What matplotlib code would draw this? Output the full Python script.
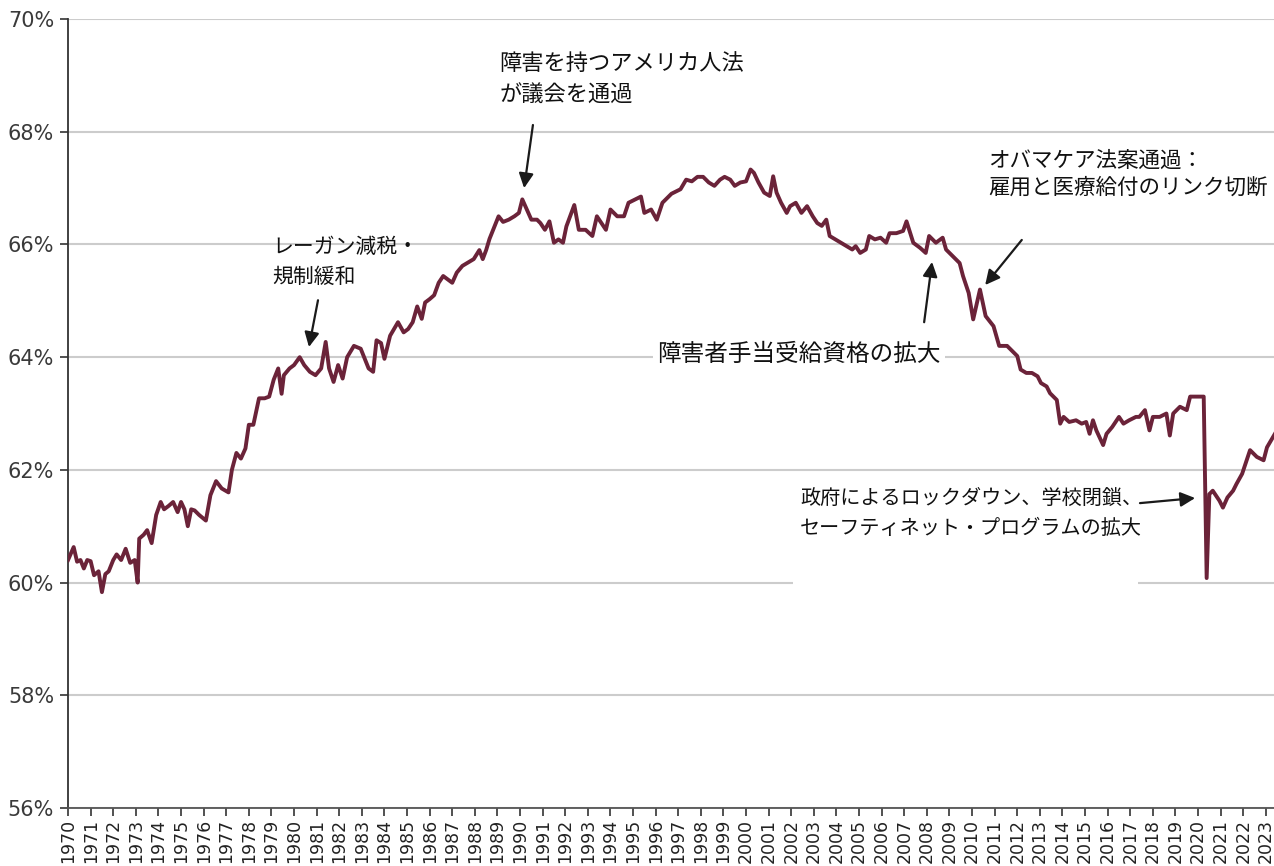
import numpy as np
import matplotlib
matplotlib.use('Agg')
import matplotlib.pyplot as plt
from matplotlib.patches import Rectangle

plt.rcParams['font.family'] = ['Noto Sans CJK JP', 'DejaVu Sans']

# 労働参加率
years = [
    1970.0, 1970.25, 1970.4, 1970.55, 1970.7, 1970.85, 1971.0, 1971.15, 1971.35, 1971.5,
    1971.65, 1971.8, 1972.0, 1972.15, 1972.35, 1972.55, 1972.75, 1972.95, 1973.08, 1973.15,
    1973.35, 1973.5, 1973.7, 1973.9, 1974.1, 1974.25, 1974.45, 1974.65, 1974.85, 1975.0,
    1975.15, 1975.3, 1975.45, 1975.6, 1975.8, 1976.1, 1976.3, 1976.55, 1976.8, 1977.1,
    1977.25, 1977.45, 1977.65, 1977.85, 1978.0, 1978.2, 1978.45, 1978.7, 1978.9, 1979.1,
    1979.3, 1979.45, 1979.55, 1979.8, 1980.0, 1980.25, 1980.45, 1980.7, 1980.95, 1981.2,
    1981.4, 1981.55, 1981.75, 1981.95, 1982.15, 1982.35, 1982.65, 1982.95, 1983.3, 1983.5,
    1983.65, 1983.85, 1984.0, 1984.25, 1984.6, 1984.85, 1985.05, 1985.25, 1985.45, 1985.65,
    1985.8, 1986.0, 1986.2, 1986.4, 1986.6, 1986.8, 1987.0, 1987.2, 1987.45, 1987.7,
    1987.95, 1988.2, 1988.35, 1988.5, 1988.65, 1988.85, 1989.05, 1989.25, 1989.5, 1989.75,
    1989.95, 1990.1, 1990.3, 1990.5, 1990.75, 1990.9, 1991.1, 1991.3, 1991.5, 1991.7,
    1991.9, 1992.05, 1992.4, 1992.6, 1992.9, 1993.2, 1993.4, 1993.8, 1994.0, 1994.3,
    1994.6, 1994.8, 1995.1, 1995.35, 1995.5, 1995.8, 1996.05, 1996.3, 1996.7, 1997.1,
    1997.35, 1997.6, 1997.85, 1998.1, 1998.35, 1998.6, 1998.85, 1999.05, 1999.3, 1999.5,
    1999.75, 2000.0, 2000.2, 2000.35, 2000.55, 2000.8, 2001.05, 2001.2, 2001.35, 2001.55,
    2001.8, 2001.95, 2002.2, 2002.45, 2002.7, 2002.95, 2003.15, 2003.35, 2003.55, 2003.7,
    2003.95, 2004.2, 2004.45, 2004.7, 2004.85, 2005.05, 2005.3, 2005.45, 2005.7, 2005.95,
    2006.2, 2006.35, 2006.65, 2006.95, 2007.1, 2007.4, 2007.7, 2007.95, 2008.1, 2008.4,
    2008.7, 2008.85, 2009.15, 2009.45, 2009.6, 2009.85, 2010.05, 2010.35, 2010.6, 2010.95,
    2011.2, 2011.55, 2011.7, 2012.0, 2012.15, 2012.4, 2012.65, 2012.9, 2013.05, 2013.3,
    2013.45, 2013.75, 2013.9, 2014.05, 2014.3, 2014.6, 2014.85, 2015.05, 2015.2, 2015.35,
    2015.5, 2015.8, 2015.95, 2016.2, 2016.5, 2016.7, 2016.95, 2017.25, 2017.4, 2017.65,
    2017.85, 2018.0, 2018.3, 2018.6, 2018.75, 2018.9, 2019.2, 2019.5, 2019.65, 2020.25,
    2020.38, 2020.5, 2020.65, 2020.95, 2021.1, 2021.3, 2021.55, 2021.7, 2021.95, 2022.15,
    2022.3, 2022.6, 2022.9, 2023.05, 2023.4,
]
rate = [
    60.4, 60.63, 60.37, 60.4, 60.25, 60.4, 60.38, 60.13, 60.2, 59.83,
    60.15, 60.2, 60.4, 60.5, 60.4, 60.6, 60.35, 60.4, 60.0, 60.78,
    60.85, 60.93, 60.7, 61.2, 61.43, 61.3, 61.36, 61.43, 61.25, 61.43,
    61.3, 61.0, 61.3, 61.28, 61.2, 61.1, 61.55, 61.8, 61.67, 61.6,
    62.0, 62.3, 62.2, 62.38, 62.8, 62.8, 63.27, 63.27, 63.3, 63.6,
    63.8, 63.35, 63.68, 63.8, 63.86, 64.0, 63.86, 63.74, 63.68, 63.8,
    64.27, 63.8, 63.56, 63.86, 63.62, 64.0, 64.2, 64.15, 63.8, 63.74,
    64.3, 64.25, 63.97, 64.38, 64.62, 64.44, 64.5, 64.62, 64.9, 64.68,
    64.97, 65.03, 65.1, 65.32, 65.44, 65.38, 65.32, 65.5, 65.62, 65.68,
    65.74, 65.9, 65.74, 65.9, 66.1, 66.3, 66.5, 66.4, 66.44, 66.5,
    66.56, 66.8, 66.62, 66.44, 66.44, 66.38, 66.26, 66.41, 66.03, 66.09,
    66.03, 66.32, 66.7, 66.26, 66.26, 66.15, 66.5, 66.26, 66.62, 66.5,
    66.5, 66.74, 66.8, 66.85, 66.56, 66.62, 66.44, 66.74, 66.9, 66.98,
    67.15, 67.12, 67.2, 67.2, 67.1, 67.04, 67.15, 67.2, 67.15, 67.04,
    67.1, 67.12, 67.33, 67.27, 67.1, 66.92, 66.86, 67.21, 66.92, 66.74,
    66.56, 66.68, 66.74, 66.56, 66.68, 66.5, 66.38, 66.33, 66.44, 66.15,
    66.09, 66.03, 65.97, 65.91, 65.97, 65.85, 65.91, 66.15, 66.09, 66.12,
    66.03, 66.2, 66.2, 66.24, 66.41, 66.03, 65.94, 65.85, 66.15, 66.03,
    66.12, 65.91, 65.79, 65.67, 65.44, 65.14, 64.67, 65.2, 64.73, 64.55,
    64.2, 64.2, 64.14, 64.02, 63.78, 63.72, 63.72, 63.66, 63.54, 63.48,
    63.36, 63.24, 62.82, 62.94, 62.85, 62.88, 62.82, 62.85, 62.64, 62.88,
    62.7, 62.44, 62.64, 62.76, 62.94, 62.82, 62.88, 62.94, 62.94, 63.06,
    62.7, 62.94, 62.94, 63.0, 62.61, 63.0, 63.12, 63.06, 63.3, 63.3,
    60.08, 61.57, 61.63, 61.45, 61.33, 61.51, 61.63, 61.75, 61.93, 62.17,
    62.35, 62.23, 62.17, 62.4, 62.64,
]

tick_years = list(range(1970, 2024))
y_ticks = [56, 58, 60, 62, 64, 66, 68, 70]

fig = plt.figure(figsize=(12.74, 8.66), dpi=100)
ax = fig.add_axes([0.0534, 0.067, 0.9466, 0.911])

ax.plot(years, rate, color='#6b2339', lw=2.8, zorder=3, solid_joinstyle='round')

ax.set_xlim(1970, 2023.36)
ax.set_ylim(56, 70)
ax.set_yticks(y_ticks)
ax.set_yticklabels([f'{v}%' for v in y_ticks], fontsize=15, color='#3a3a3a',
                   family='DejaVu Sans')
ax.set_xticks(tick_years)
ax.set_xticklabels([str(y) for y in tick_years], rotation=90, fontsize=12.5,
                   color='#222222', family='DejaVu Sans')
ax.tick_params(axis='y', direction='out', length=6, width=1.2, color='#333333', pad=4)
ax.tick_params(axis='x', direction='out', length=6, width=1.2, color='#333333', pad=2)

ax.grid(axis='y', color='#cccccc', lw=1.5)
ax.set_axisbelow(True)
for s in ['top', 'right']:
    ax.spines[s].set_visible(False)
ax.spines['left'].set_color('#333333')
ax.spines['left'].set_linewidth(1.3)
ax.spines['bottom'].set_color('#555555')
ax.spines['bottom'].set_linewidth(1.3)

# 60%のグリッド線の途切れ
ax.add_patch(Rectangle((2002.08, 59.85), 15.25, 0.3, facecolor='white',
                       edgecolor='none', zorder=1))

arrow = dict(arrowstyle='-|>', color='#1a1a1a', lw=1.6, mutation_scale=22,
             shrinkA=0, shrinkB=0)

ax.text(1979.03, 66.15, 'レーガン減税・\n規制緩和', fontsize=15, ha='left', va='top',
        linespacing=1.45, color='#111111')
ax.annotate('', xy=(1980.66, 64.18), xytext=(1981.06, 65.01), arrowprops=arrow)

ax.text(1989.1, 69.41, '障害を持つアメリカ人法\nが議会を通過', fontsize=16, ha='left', va='top',
        linespacing=1.45, color='#111111')
ax.annotate('', xy=(1990.18, 67.0), xytext=(1990.57, 68.12), arrowprops=arrow)

ax.text(2010.7, 67.68, 'オバマケア法案通過：\n雇用と医療給付のリンク切断', fontsize=15.5,
        ha='left', va='top', linespacing=1.3, color='#111111')
ax.annotate('', xy=(2010.58, 65.28), xytext=(2012.2, 66.08), arrowprops=arrow)

ax.text(1996.06, 64.04, '障害者手当受給資格の拡大', fontsize=17, ha='left', va='center',
        color='#111111', zorder=2,
        bbox=dict(facecolor='white', edgecolor='none', pad=3))
ax.annotate('', xy=(2008.23, 65.69), xytext=(2007.88, 64.62), arrowprops=arrow)

ax.text(2002.39, 61.68, '政府によるロックダウン、学校閉鎖、\nセーフティネット・プログラムの拡大',
        fontsize=14.5, ha='left', va='top', linespacing=1.55, color='#111111')
ax.annotate('', xy=(2019.87, 61.5), xytext=(2017.43, 61.41), arrowprops=arrow)

fig.savefig('out.png', dpi=100)
